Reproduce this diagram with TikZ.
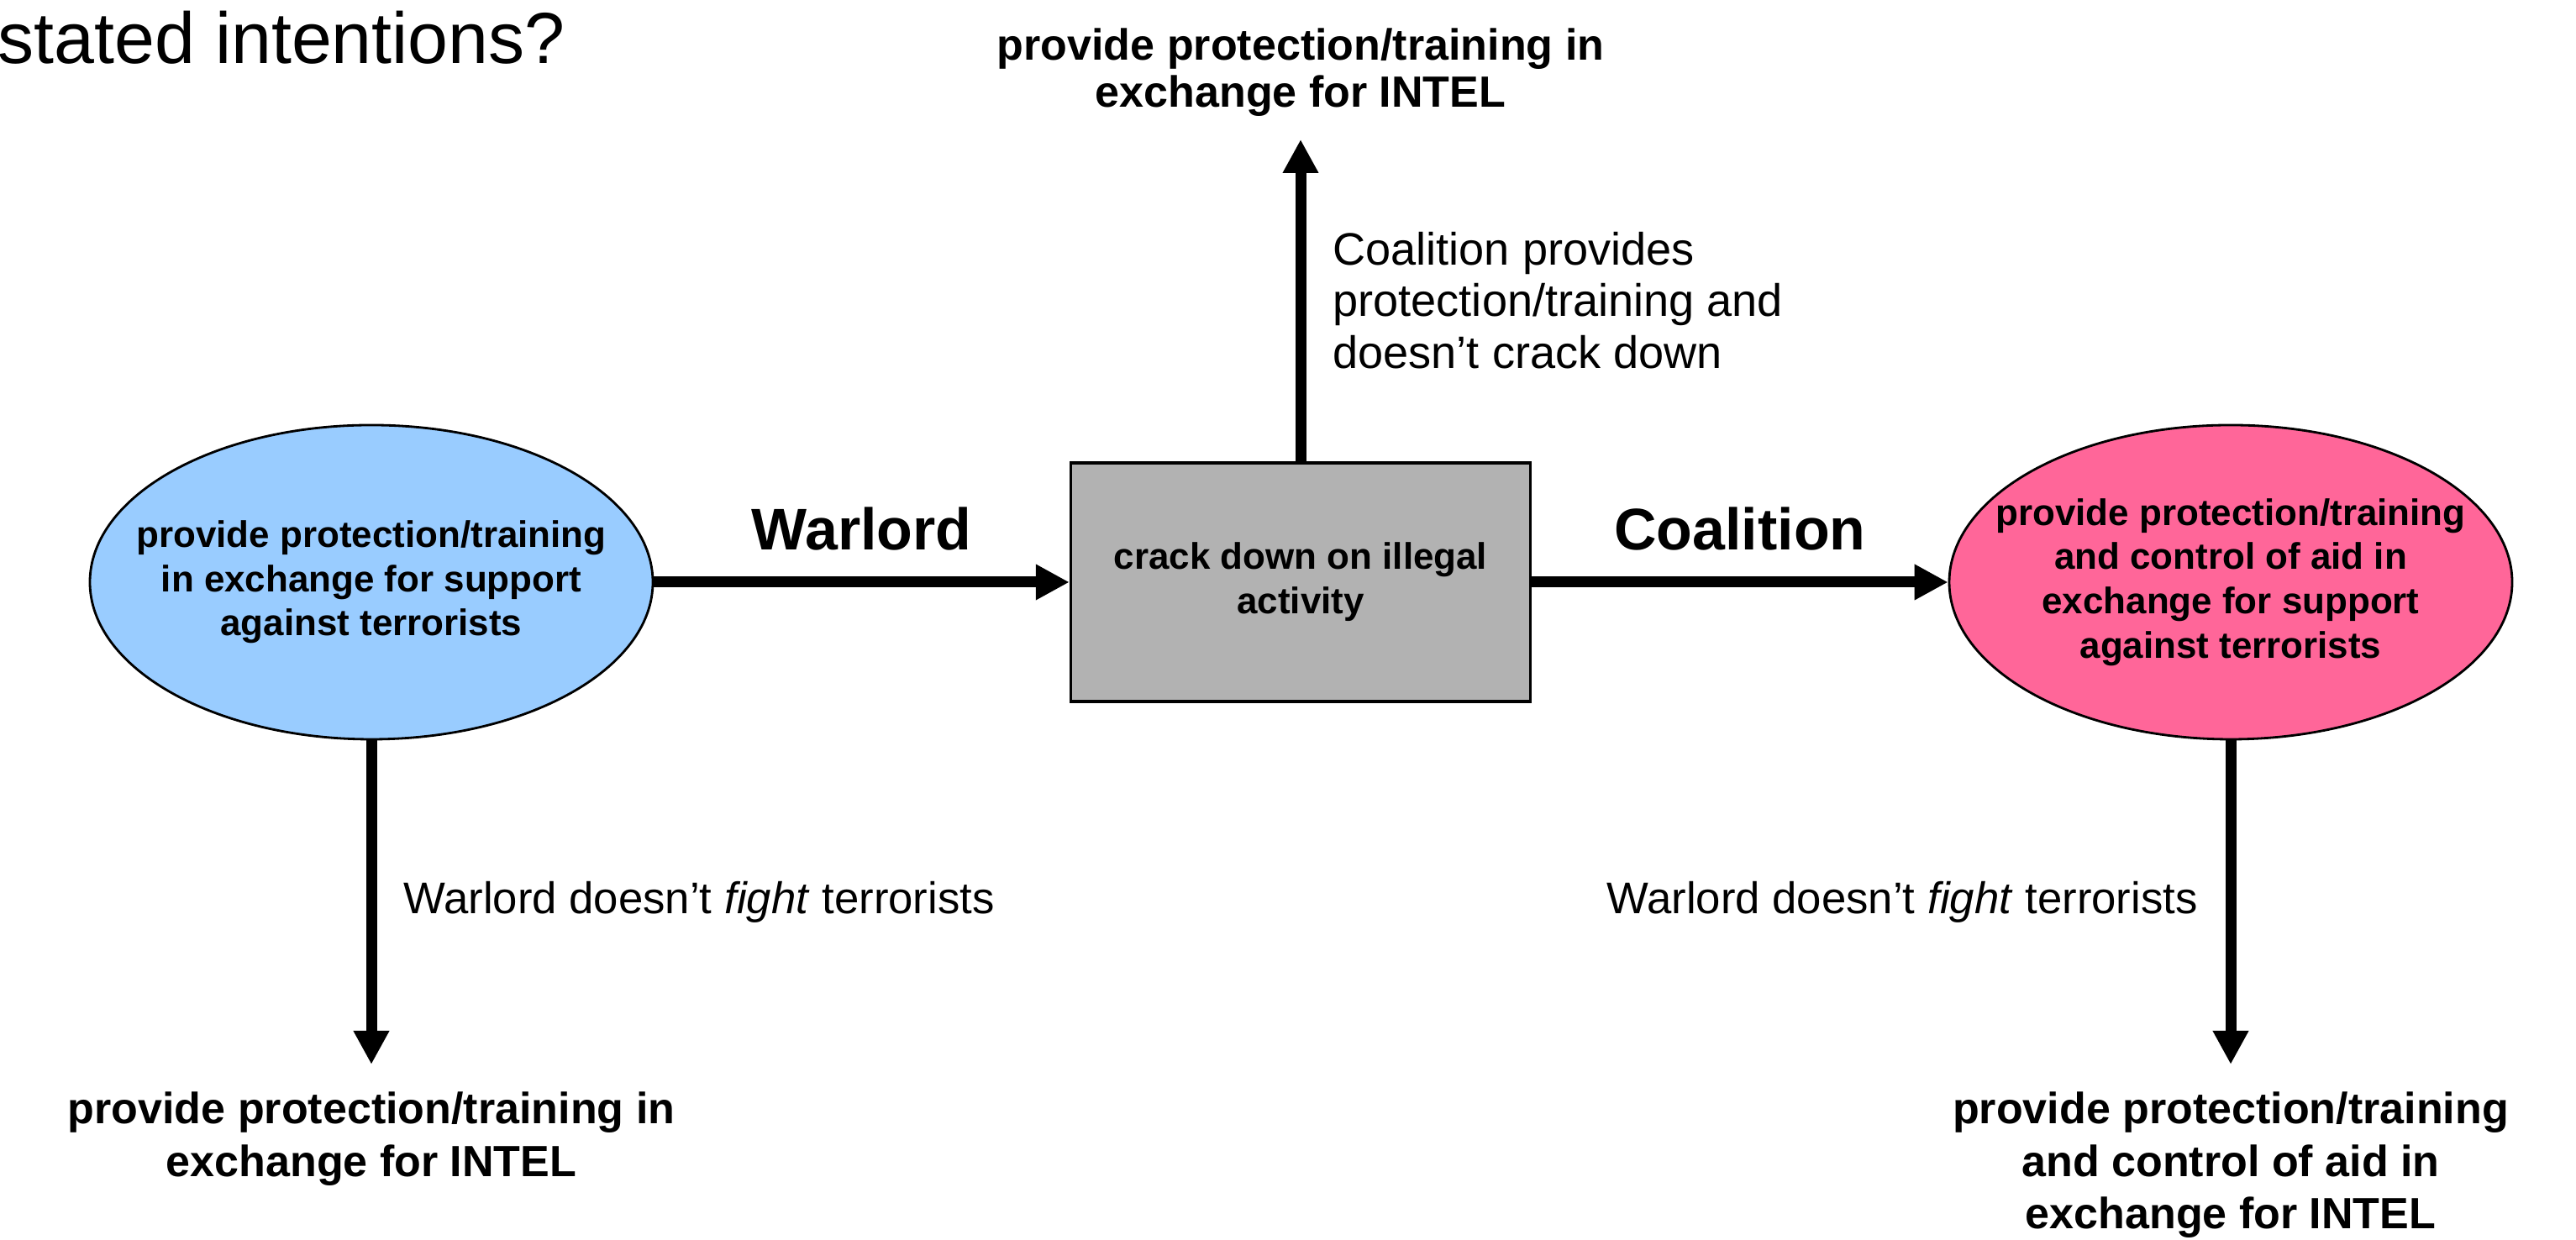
\documentclass[tikz,border=0pt]{standalone}
\usepackage{fontspec}
\setmainfont{Liberation Sans}
\usetikzlibrary{shapes.geometric, arrows.meta, positioning}
\definecolor{OfferBlue}{RGB}{153,204,255}
\definecolor{OfferPink}{RGB}{255,102,153}
\definecolor{CrackGray}{RGB}{178,178,178}
\tikzset{
  offer/.style={
    ellipse, draw=black, line width=0.8pt, inner xsep=-0.43cm, inner ysep=0pt,
    minimum width=6.70cm, minimum height=3.74cm,
    align=center, font=\fontsize{12.5}{15}\selectfont\bfseries
  },
  action/.style={
    rectangle, draw=black, line width=1pt, fill=CrackGray,
    minimum width=5.47cm, minimum height=2.84cm,
    align=center, font=\fontsize{12.5}{15}\selectfont\bfseries
  },
  outcome/.style={align=center, inner sep=0pt, font=\fontsize{14.8}{17.8}\selectfont\bfseries},
  arr/.style={-{Triangle[length=0.40cm, width=0.40cm]}, draw=black, line width=3.7pt},
  mover/.style={above=0.31cm, inner sep=0pt, font=\fontsize{19.9}{24}\selectfont\bfseries},
  cond/.style={inner sep=0pt, align=left, font=\fontsize{15.4}{17.6}\selectfont}
}
\begin{document}
\begin{tikzpicture}
  \useasboundingbox (0,0) rectangle (30.66,14.76);

  % Title
  \node[anchor=base west, inner sep=0pt, font=\fontsize{24.5}{29}\selectfont]
       (title) at (-0.03, 14.0) {stated intentions?};

  % Offers and action
  \node[offer, fill=OfferBlue] (warlordoffer) at (4.42, 7.83)
       {provide protection/training\\in exchange for support\\against terrorists};
  \node[action] (crackdown) at (15.48, 7.83) {crack down on illegal\\activity};
  \node[offer, fill=OfferPink] (coalitionoffer) at (26.55, 7.83)
       {provide protection/training\\and control of aid in\\exchange for support\\against terrorists};

  % Outcomes
  \node[outcome, anchor=south, outer sep=0.27cm, font=\fontsize{14.8}{16.2}\selectfont\bfseries]
       (intelup) at (15.48, 13.10) {provide protection/training in\\exchange for INTEL};
  \node[outcome, anchor=north, outer sep=0.33cm] (intelleft) at (4.42, 2.09)
       {provide protection/training in\\exchange for INTEL};
  \node[outcome, anchor=north, outer sep=0.33cm] (intelright) at (26.55, 2.09)
       {provide protection/training\\and control of aid in\\exchange for INTEL};

  % Arrows
  \draw[arr] (warlordoffer) -- node[mover] {Warlord} (crackdown);
  \draw[arr] (crackdown) -- node[mover] {Coalition} (coalitionoffer);
  \draw[arr] (crackdown) -- node[cond, right=0.32cm]
       {Coalition provides\\protection/training and\\doesn’t crack down} (intelup);
  \draw[arr] (warlordoffer) -- node[cond, right=0.32cm, font=\fontsize{15}{17.6}\selectfont]
       {Warlord doesn’t \textit{fight} terrorists} (intelleft);
  \draw[arr] (coalitionoffer) -- node[cond, left=0.33cm, font=\fontsize{15}{17.6}\selectfont]
       {Warlord doesn’t \textit{fight} terrorists} (intelright);
\end{tikzpicture}
\end{document}
